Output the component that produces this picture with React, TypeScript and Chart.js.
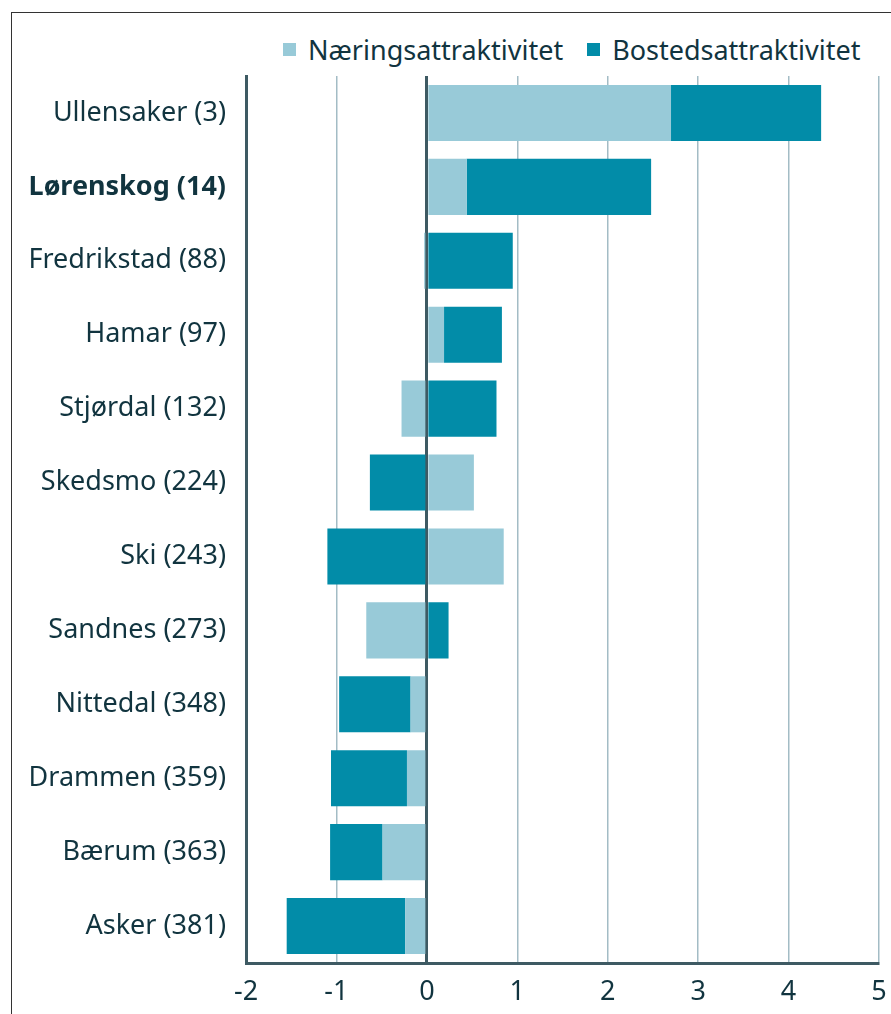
import React, { useEffect, useRef } from "react";
import { Chart, registerables } from "chart.js";

Chart.register(...registerables);

const categories = [
  "Ullensaker (3)",
  "Lørenskog (14)",
  "Fredrikstad (88)",
  "Hamar (97)",
  "Stjørdal (132)",
  "Skedsmo (224)",
  "Ski (243)",
  "Sandnes (273)",
  "Nittedal (348)",
  "Drammen (359)",
  "Bærum (363)",
  "Asker (381)",
];
const naering = [2.7, 0.44, -0.03, 0.19, -0.28, 0.52, 0.85, -0.67, -0.18, -0.22, -0.49, -0.24];
const bosted = [1.66, 2.04, 0.95, 0.64, 0.77, -0.63, -1.1, 0.24, -0.79, -0.84, -0.58, -1.31];
const seriesNames = ["Næringsattraktivitet", "Bostedsattraktivitet"];
const xMin = -2;
const xMax = 5;

const LIGHT = "#98cad8";
const DARK = "#028ca8";
const TEXT = "#11343f";
const AXIS = "#3e5a63";
const GRID = "#a3bcc5";
const FONT = "'Noto Sans', 'Open Sans', sans-serif";

export default function App() {
  const ref = useRef<HTMLCanvasElement | null>(null);

  useEffect(() => {
    if (!ref.current) return;
    const chart = new Chart(ref.current, {
      type: "bar",
      data: {
        labels: categories,
        datasets: [
          { label: seriesNames[0], data: naering, backgroundColor: LIGHT, borderWidth: 0 },
          { label: seriesNames[1], data: bosted, backgroundColor: DARK, borderWidth: 0 },
        ],
      },
      options: {
        indexAxis: "y",
        animation: false,
        responsive: false,
        maintainAspectRatio: false,
        devicePixelRatio: 1,
        layout: { padding: { top: 10, right: 12, bottom: 0, left: 0 } },
        datasets: { bar: { categoryPercentage: 1, barPercentage: 0.758 } },
        plugins: { legend: { display: false }, tooltip: { enabled: false } },
        scales: {
          x: {
            type: "linear",
            stacked: true,
            min: xMin,
            max: xMax,
            ticks: {
              stepSize: 1,
              color: TEXT,
              padding: 13,
              font: { family: FONT, size: 27 },
            },
            grid: {
              drawTicks: false,
              color: (ctx: any) => (ctx.tick && ctx.tick.value === 0 ? AXIS : GRID),
              lineWidth: (ctx: any) => (ctx.tick && ctx.tick.value === 0 ? 3 : 1.5),
            },
            border: { color: AXIS, width: 3 },
            afterFit: (scale: any) => {
              scale.paddingLeft = 0;
              scale.paddingRight = 0;
              scale.height = 51;
            },
          },
          y: {
            stacked: true,
            ticks: {
              color: TEXT,
              padding: 20,
              font: (ctx: any) => ({
                family: FONT,
                size: 27,
                weight: ctx.index === 1 ? "bold" : "normal",
              }),
            },
            grid: { display: false, drawTicks: false },
            border: { color: AXIS, width: 3 },
            afterFit: (scale: any) => {
              scale.width = 234;
              scale.paddingTop = 0;
              scale.paddingBottom = 0;
            },
          },
        },
      },
    });
    return () => chart.destroy();
  }, []);

  const legendItem = (color: string, text: string) => (
    <span style={{ display: "inline-flex", alignItems: "center", marginRight: 24 }}>
      <span style={{ width: 13, height: 13, background: color, display: "inline-block", marginRight: 12 }} />
      <span>{text}</span>
    </span>
  );

  return (
    <div style={{ position: "absolute", left: 0, top: 0, width: 891, height: 1014, background: "#fff", overflow: "hidden" }}>
      <div style={{ position: "absolute", left: 11, top: 12, width: 880, height: 1002, borderTop: "1.5px solid #333", borderLeft: "1.5px solid #333" }} />
      <div
        style={{
          position: "absolute",
          left: 283,
          top: 28,
          whiteSpace: "nowrap",
          fontFamily: FONT,
          fontSize: 27,
          lineHeight: "36px",
          color: TEXT,
        }}
      >
        {legendItem(LIGHT, seriesNames[0])}
        {legendItem(DARK, seriesNames[1])}
      </div>
      <canvas ref={ref} width={879} height={948} style={{ position: "absolute", left: 12, top: 66, width: 879, height: 948 }} />
    </div>
  );
}
